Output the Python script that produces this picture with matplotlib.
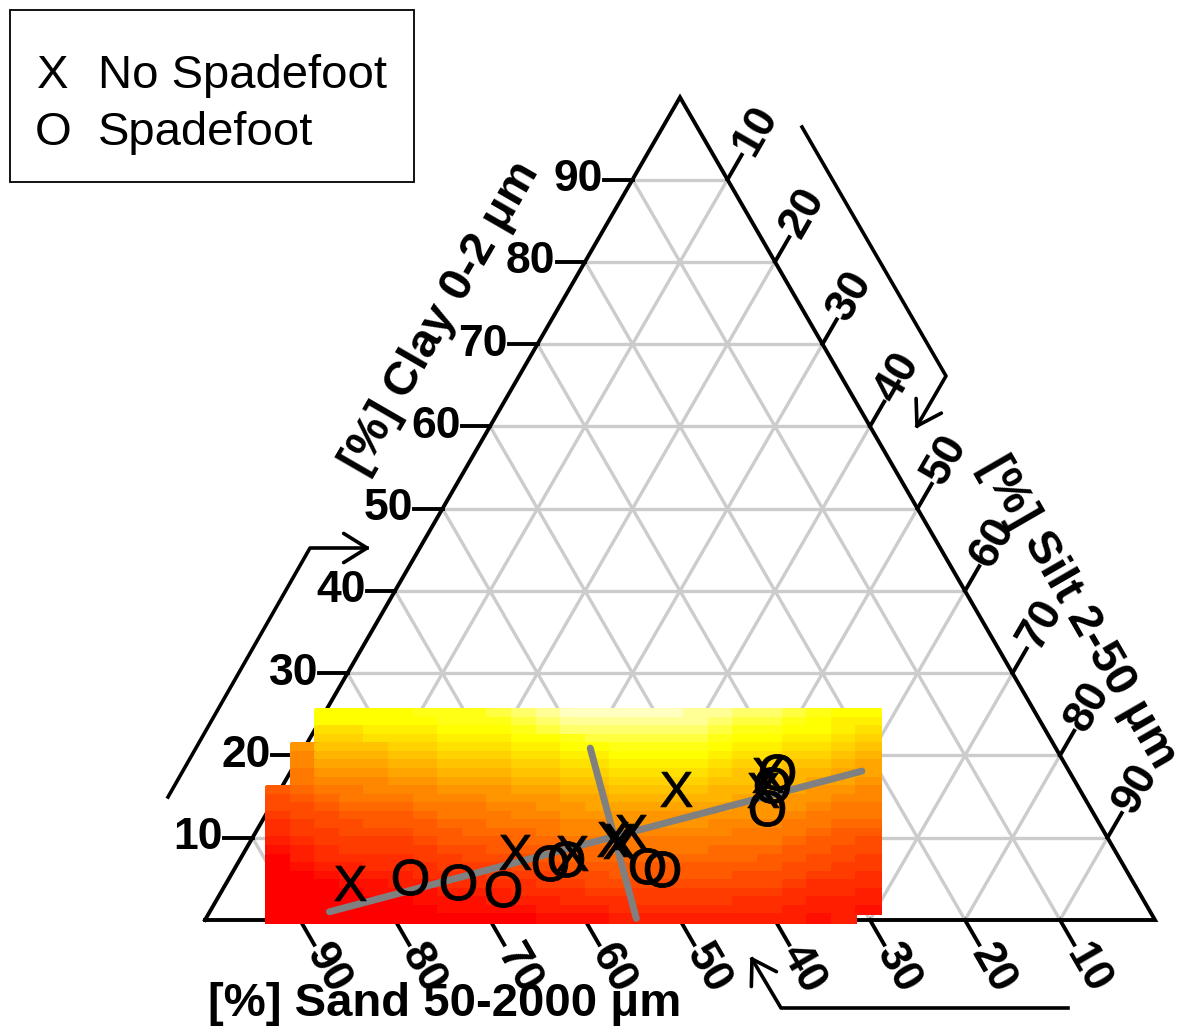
import numpy as np
import matplotlib.pyplot as plt
from matplotlib.colors import ListedColormap, hsv_to_rgb
from matplotlib.patches import Rectangle

plt.rcParams['font.family'] = ['Liberation Sans', 'DejaVu Sans']
plt.rcParams['mathtext.fontset'] = 'custom'
plt.rcParams['mathtext.sf'] = 'Liberation Sans'

# soil samples, % sand and % clay (silt = rest)
no_sand = [82.5, 63.2, 57.3, 52.1, 51.6, 49.8, 42.5, 31.9, 33.4]
no_clay = [4.5, 8.3, 8.1, 9.9, 9.6, 10.7, 15.9, 17.6, 15.8]
yes_sand = [75.8, 71.1, 66.7, 60.2, 58.3, 50.2, 48.8, 30.8, 32.1, 34.0]
yes_clay = [5.2, 4.6, 3.8, 6.9, 7.4, 6.6, 6.2, 18.0, 16.4, 13.6]

# gray fitted lines, end points (sand, clay)
line1_sand = [86.4, 21.8]
line1_clay = [1.0, 18.1]
line2_sand = [49.0, 54.5]
line2_clay = [20.9, 0.2]

# heat map level per cell (0 = red ... 23 = palest yellow), one string per column,
# top row first, '.' = no value
heat_cols = [
    ".........6554332100000000",
    "....a99887655443221000000",
    "hhfedcba98765544332100000",
    "hhfedcba98876554432210000",
    "hhgfdcba99876654433211000",
    "hhgfedcba9876654433221000",
    "ihgfedcba9987665443321100",
    "iihgfedcba988766544332110",
    "iihgfedcba988776554332110",
    "jihgfedcbaa98876654432210",
    "kjihgfedcba99877655433210",
    "lkjhgfedcbaa9887665443221",
    "mlkihgfedcbaa998776543321",
    "mlkjhgfedcbba998776554321",
    "mlkjihgfedcbaa98876654332",
    "mlkjihgfedcbaa98876654432",
    "mlkjihgfedcbaa98876654432",
    "llkjihgfedcbaa98876654432",
    "lkjihgfedccba998776654432",
    "kjihgfeddcbaa988776554332",
    "kjihgfedccbaa988766554332",
    "jihgfedccbaa9887665543322",
    "ihhgfedcbaa98876655433221",
    "hggfedcbba988766554433222",
    "hgfedcbba998876554433221.",
]
ticks = [10, 20, 30, 40, 50, 60, 70, 80, 90]

H = np.sqrt(3) / 2


def tern(sand, clay):
    sand = np.asarray(sand, float)
    clay = np.asarray(clay, float)
    silt = 100 - sand - clay
    return silt + clay / 2, clay * H


# R heat.colors(24)
n_hue, n_pale = 18, 6
cols = [hsv_to_rgb((h, 1, 1)) for h in np.linspace(0, 1 / 6, n_hue)]
cols += [hsv_to_rgb((1 / 6, s, 1)) for s in np.linspace(1 - 1 / 12, 1 / 12, n_pale)]
cmap = ListedColormap(cols)

fig = plt.figure(figsize=(11.88, 10.33), dpi=100)
ax = fig.add_axes([0, 0, 1, 1])
ax.set_xlim(-205 / 9.5, 983 / 9.5)
ax.set_ylim(-113 / 9.5, 920 / 9.5)
ax.axis('off')

grid_c = '#cccccc'
for v in ticks:
    for a, b in [((100 - v, v), (0, v)), ((v, 0), (v, 100 - v)), ((100 - v, 0), (0, 100 - v))]:
        x, y = tern([a[0], b[0]], [a[1], b[1]])
        ax.plot(x, y, color=grid_c, lw=2.4, zorder=1, solid_capstyle='butt')

# triangle
tx, ty = tern([100, 0, 0, 100], [0, 0, 100, 0])
ax.plot(tx, ty, color='black', lw=2.8, zorder=2, solid_joinstyle='miter')

L = 3.0
fs_tick = 32
for v in ticks:
    # clay, left edge
    x, y = v / 2, v * H
    ax.plot([x, x - L], [y, y], color='black', lw=2.8, zorder=2)
    ax.text(x - L - 0.1, y, str(v), ha='right', va='center', fontsize=fs_tick,
            fontweight='bold')
    # sand, bottom edge
    x, y = 100 - v, 0
    dx, dy = 0.5 * L, -H * L
    ax.plot([x, x + dx], [y, y + dy], color='black', lw=2.8, zorder=2)
    ax.text(x + dx * 1.1, y + dy * 1.1, str(v), ha='left', va='center', rotation=-60,
            rotation_mode='anchor', fontsize=fs_tick, fontweight='bold')
    # silt, right edge
    x, y = v + (100 - v) / 2, (100 - v) * H
    dx, dy = 0.5 * L, H * L
    ax.plot([x, x + dx], [y, y + dy], color='black', lw=2.8, zorder=2)
    ax.text(x + dx * 1.1, y + dy * 1.1, str(v), ha='left', va='center', rotation=60,
            rotation_mode='anchor', fontsize=fs_tick, fontweight='bold')

# heat map
grid = np.array([[np.nan if ch == '.' else int(ch, 36) for ch in col] for col in heat_cols]).T
grid = np.ma.masked_invalid(grid)
xe = np.linspace(6.42, 71.16, len(heat_cols) + 1)
ye = np.linspace(22.2, -0.32, len(heat_cols[0]) + 1)
ax.pcolormesh(xe, ye, grid, cmap=cmap, vmin=-0.5, vmax=23.5, zorder=3, shading='flat',
              edgecolors='face', linewidth=0.3)

# fitted lines
for s, c in [(line1_sand, line1_clay), (line2_sand, line2_clay)]:
    x, y = tern(s, c)
    ax.plot(x, y, color='#808080', lw=5, solid_capstyle='round', zorder=4)

# samples
x, y = tern(no_sand, no_clay)
ax.plot(x, y, ls='none', marker=r'$\mathsf{X}$', ms=25, color='black', mew=0.6, zorder=5)
x, y = tern(yes_sand, yes_clay)
ax.plot(x, y, ls='none', marker=r'$\mathsf{O}$', ms=26, color='black', mew=0.6, zorder=5)

# axis titles
fs_title = 34
x, y = (441 - 205) / 9.5, (920 - 318) / 9.5
ax.text(x, y, '[%] Clay 0-2 \u03bcm', rotation=60, ha='center', va='center',
        fontsize=fs_title, fontweight='bold')
x, y = (1078 - 205) / 9.5, (920 - 612) / 9.5
ax.text(x, y, '[%] Silt 2-50 \u03bcm', rotation=-60, ha='center', va='center',
        fontsize=fs_title, fontweight='bold')
x, y = (445 - 205) / 9.5, (920 - 1004) / 9.5
ax.text(x, y, '[%] Sand 50-2000 \u03bcm', ha='center', va='center',
        fontsize=fs_title, fontweight='bold')


# direction arrows (pixel positions -> data)
def px(p):
    return (p[0] - 205) / 9.5, (920 - p[1]) / 9.5


def arrow(pts):
    xy = np.array([px(p) for p in pts])
    ax.plot(xy[:, 0], xy[:, 1], color='black', lw=2.6, zorder=2)
    tip, prev = xy[-1], xy[-2]
    d = prev - tip
    d = d / np.hypot(*d) * 2.9
    for ang in (np.radians(32), -np.radians(32)):
        r = np.array([[np.cos(ang), -np.sin(ang)], [np.sin(ang), np.cos(ang)]])
        w = tip + r @ d
        ax.plot([tip[0], w[0]], [tip[1], w[1]], color='black', lw=2.6, zorder=2,
                solid_capstyle='round')


arrow([(168, 797), (310, 548), (367, 548)])
arrow([(802, 127), (946, 376), (917, 426)])
arrow([(1068, 1008), (781, 1008), (752, 959)])

# legend
W, Hh = 1188, 1033
fig.patches.append(Rectangle((10 / W, 1 - 182 / Hh), 404 / W, 172 / Hh, transform=fig.transFigure,
                             fill=False, edgecolor='black', lw=1.3))
fs_leg = 34
fig.text(53 / W, 1 - 88 / Hh, 'X', ha='center', va='baseline', fontsize=fs_leg)
fig.text(98 / W, 1 - 88 / Hh, 'No Spadefoot', ha='left', va='baseline', fontsize=fs_leg)
fig.text(53 / W, 1 - 145 / Hh, 'O', ha='center', va='baseline', fontsize=fs_leg)
fig.text(98 / W, 1 - 145 / Hh, 'Spadefoot', ha='left', va='baseline', fontsize=fs_leg)

fig.savefig('out.png', dpi=100)
